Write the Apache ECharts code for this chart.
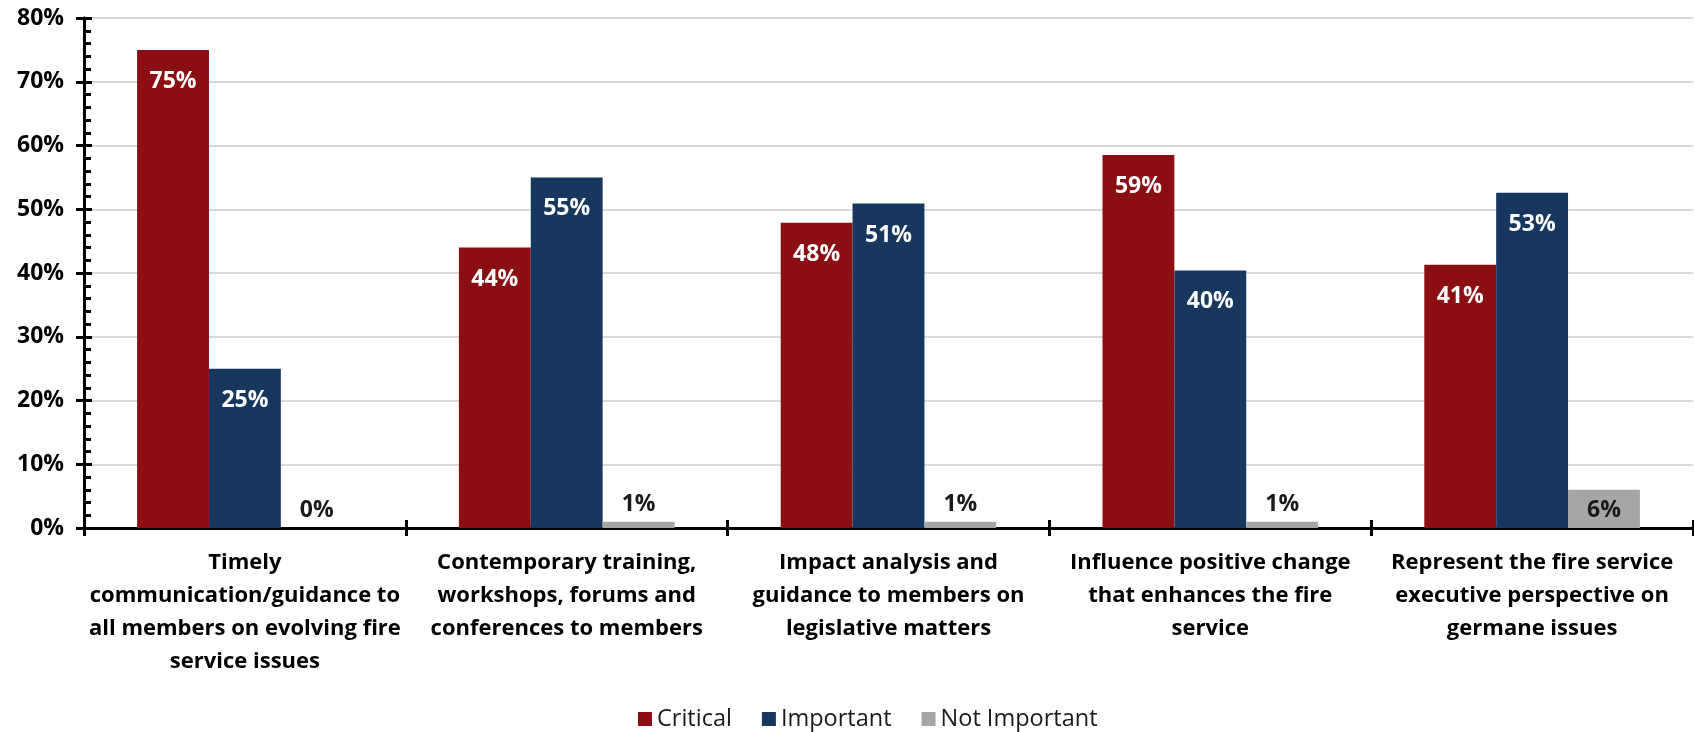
<!DOCTYPE html>
<html>
<head>
<meta charset="utf-8">
<script src="https://cdn.jsdelivr.net/npm/echarts@6/dist/echarts.min.js"></script>
<style>
  html, body { margin: 0; padding: 0; background: #fff; }
  #chart { width: 1694px; height: 732px; }
</style>
</head>
<body>
<div id="chart"></div>
<script>
const categories = [
  "Timely\ncommunication/guidance to\nall members on evolving fire\nservice issues",
  "Contemporary training,\nworkshops, forums and\nconferences to members",
  "Impact analysis and\nguidance to members on\nlegislative matters",
  "Influence positive change\nthat enhances the fire\nservice",
  "Represent the fire service\nexecutive perspective on\ngermane issues",
];
const critical = [75, 44, 47.9, 58.5, 41.3];
const important = [25, 55, 50.9, 40.4, 52.6];
const notImportant = [0, 1, 1, 1, 6];
const yTicks = { min: 0, max: 80, step: 10 };

const FONT = "'Open Sans', 'Noto Sans', sans-serif";
const colors = {
  critical: "#8B0E12",
  important: "#17375E",
  notImportant: "#A6A6A6",
  ink: "#000000",
  grid: "#D9D9D9",
};

const pct = (p) => `${Math.round(p.value)}%`;

const insideLabel = {
  show: true,
  position: "insideTop",
  distance: 20,
  color: "#fff",
  fontFamily: FONT,
  fontWeight: "bold",
  fontSize: 23,
  formatter: pct,
};

const lowData = notImportant.map((v) => ({
  value: v,
  label:
    v >= 5
      ? { position: "insideTop", distance: 9 }
      : { position: "top", distance: 6 },
}));

const chart = echarts.init(document.getElementById("chart"), null, { renderer: "canvas" });

const yBase = {
  type: "value",
  min: yTicks.min,
  max: yTicks.max,
  interval: yTicks.step,
  position: "left",
  axisLine: { show: true, lineStyle: { color: colors.ink, width: 3 } },
};

const xBase = {
  type: "category",
  data: categories,
  position: "bottom",
  axisLine: { show: true, lineStyle: { color: colors.ink, width: 3 } },
};

chart.setOption({
  animation: false,
  backgroundColor: "#fff",
  textStyle: { fontFamily: FONT },
  grid: {
    left: 84,
    right: 1,
    top: 18,
    bottom: 204,
    outerBoundsMode: "none",
  },
  legend: {
    data: ["Critical", "Important", "Not Important"],
    left: 633,
    top: 702,
    itemWidth: 14,
    itemHeight: 14,
    itemGap: 30,
    icon: "rect",
    textStyle: { fontFamily: FONT, fontSize: 23.5, color: "#1a1a1a" },
  },
  xAxis: [
    {
      ...xBase,
      axisTick: { show: true, length: 8, lineStyle: { color: colors.ink, width: 3 } },
      axisLabel: {
        show: true,
        interval: 0,
        margin: 18,
        color: colors.ink,
        fontFamily: FONT,
        fontWeight: "bold",
        fontSize: 22,
        lineHeight: 33,
        align: "center",
      },
    },
    {
      ...xBase,
      axisTick: { show: true, inside: true, length: 8, lineStyle: { color: colors.ink, width: 3 } },
      axisLabel: { show: false },
    },
  ],
  yAxis: [
    {
      ...yBase,
      axisTick: { show: true, length: 8, lineStyle: { color: colors.ink, width: 3 } },
      axisLabel: {
        margin: 20,
        color: colors.ink,
        fontFamily: FONT,
        fontWeight: "bold",
        fontSize: 23,
        formatter: "{value}%",
      },
      splitLine: { show: true, lineStyle: { color: colors.grid, width: 2 } },
    },
    {
      ...yBase,
      axisTick: { show: true, inside: true, length: 8, lineStyle: { color: colors.ink, width: 3 } },
      minorTick: { show: true, splitNumber: 5, length: 7, lineStyle: { color: colors.ink, width: 3 } },
      axisLabel: { show: false },
      splitLine: { show: false },
    },
  ],
  series: [
    {
      name: "Critical",
      type: "bar",
      data: critical,
      barGap: "0%",
      barCategoryGap: "33%",
      itemStyle: { color: colors.critical },
      label: insideLabel,
    },
    {
      name: "Important",
      type: "bar",
      data: important,
      barGap: "0%",
      barCategoryGap: "33%",
      itemStyle: { color: colors.important },
      label: insideLabel,
    },
    {
      name: "Not Important",
      type: "bar",
      data: lowData,
      barGap: "0%",
      barCategoryGap: "33%",
      itemStyle: { color: colors.notImportant },
      label: {
        show: true,
        color: "#1a1a1a",
        fontFamily: FONT,
        fontWeight: "bold",
        fontSize: 23,
        formatter: pct,
      },
    },
  ],
});

window.addEventListener("resize", () => chart.resize());
</script>
</body>
</html>
